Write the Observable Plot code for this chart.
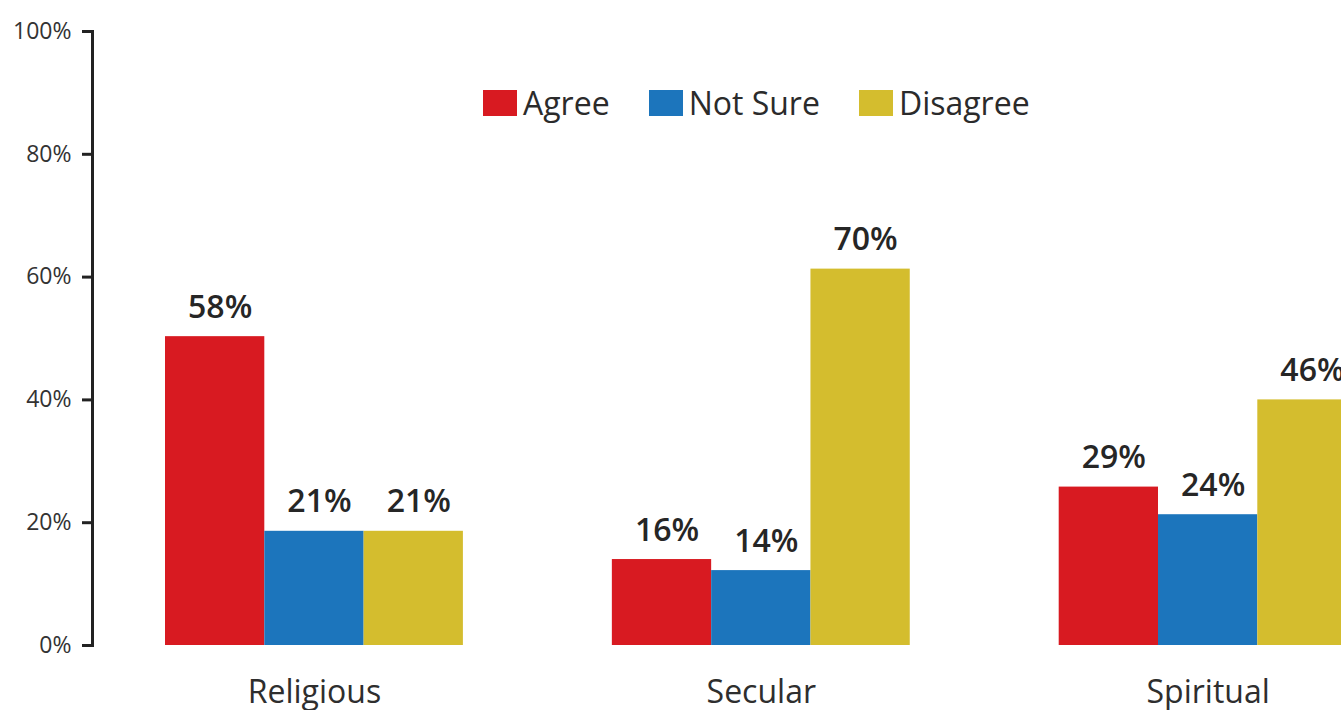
<!DOCTYPE html>
<html><head><meta charset="utf-8">
<script src="https://cdn.jsdelivr.net/npm/d3@7"></script>
<script src="https://cdn.jsdelivr.net/npm/@observablehq/plot@0.6"></script>
<style>
html,body{margin:0;padding:0;background:#fff;overflow:hidden;}
#wrap{position:relative;width:1341px;height:710px;overflow:hidden;}
#legend{position:absolute;left:483px;top:87px;display:flex;align-items:center;gap:39px;font-family:"Open Sans";font-size:32px;line-height:1;color:#2b2b2b;}
.item{display:flex;align-items:center;gap:6px;}
.sw{width:34px;height:26px;display:inline-block;}
</style></head><body><div id="wrap"><div id="legend"></div></div>
<script>
const categories = ["Religious", "Secular", "Spiritual"];
const responses = ["Agree", "Not Sure", "Disagree"];
const colors = ["#d81a21", "#1c75bc", "#d4bd2e"];
// bar heights as drawn against the axis
const agreeHeights = [50.3, 14.0, 25.8];
const notSureHeights = [18.6, 12.2, 21.3];
const disagreeHeights = [18.6, 61.3, 40.0];
// printed value labels
const agreeLabels = ["58%", "16%", "29%"];
const notSureLabels = ["21%", "14%", "24%"];
const disagreeLabels = ["21%", "70%", "46%"];
const yTicks = [0, 20, 40, 60, 80, 100];

const heights = [agreeHeights, notSureHeights, disagreeHeights];
const labels = [agreeLabels, notSureLabels, disagreeLabels];
const rows = [];
categories.forEach((c, gi) => responses.forEach((r, ri) => {
  rows.push({category: c, response: r, gi, ri, value: heights[ri][gi], label: labels[ri][gi]});
}));
const groupStep = 4.5;

const plot = Plot.plot({
  width: 1341,
  height: 710,
  marginLeft: 92,
  marginRight: 0,
  marginTop: 31,
  marginBottom: 65,
  style: {fontFamily: "Open Sans", background: "white", overflow: "hidden"},
  x: {type: "linear", domain: [0, 1], range: [165, 264.3], axis: null},
  y: {domain: [0, 100], axis: null},
  color: {domain: responses, range: colors},
  marks: [
    Plot.rectY(rows, {x1: d => d.gi * groupStep + d.ri, x2: d => d.gi * groupStep + d.ri + 1, y1: 0, y2: "value", fill: "response"}),
    Plot.text(rows, {x: d => d.gi * groupStep + d.ri + 0.5, y: "value", text: "label", lineAnchor: "bottom", dy: -19, dx: 5, fontSize: 32, fontWeight: 600, fill: "#262626"}),
    Plot.text(categories, {x: (d, i) => i * groupStep + 1.5, y: 0, text: d => d, lineAnchor: "bottom", dy: 57, fontSize: 32, fill: "#2e2e2e"}),
    Plot.axisY({ticks: yTicks, tickFormat: d => d + "%", tickSize: 10, tickPadding: 11, fontSize: 23, strokeWidth: 3, stroke: "#222", color: "#333", label: null}),
    Plot.frame({anchor: "left", stroke: "#222", strokeWidth: 3})
  ]
});
document.getElementById("wrap").prepend(plot);
const leg = document.getElementById("legend");
responses.forEach((r, i) => {
  const it = document.createElement("div"); it.className = "item";
  const sw = document.createElement("span"); sw.className = "sw"; sw.style.background = colors[i];
  const t = document.createElement("span"); t.textContent = r;
  it.append(sw, t); leg.append(it);
});
</script></body></html>
